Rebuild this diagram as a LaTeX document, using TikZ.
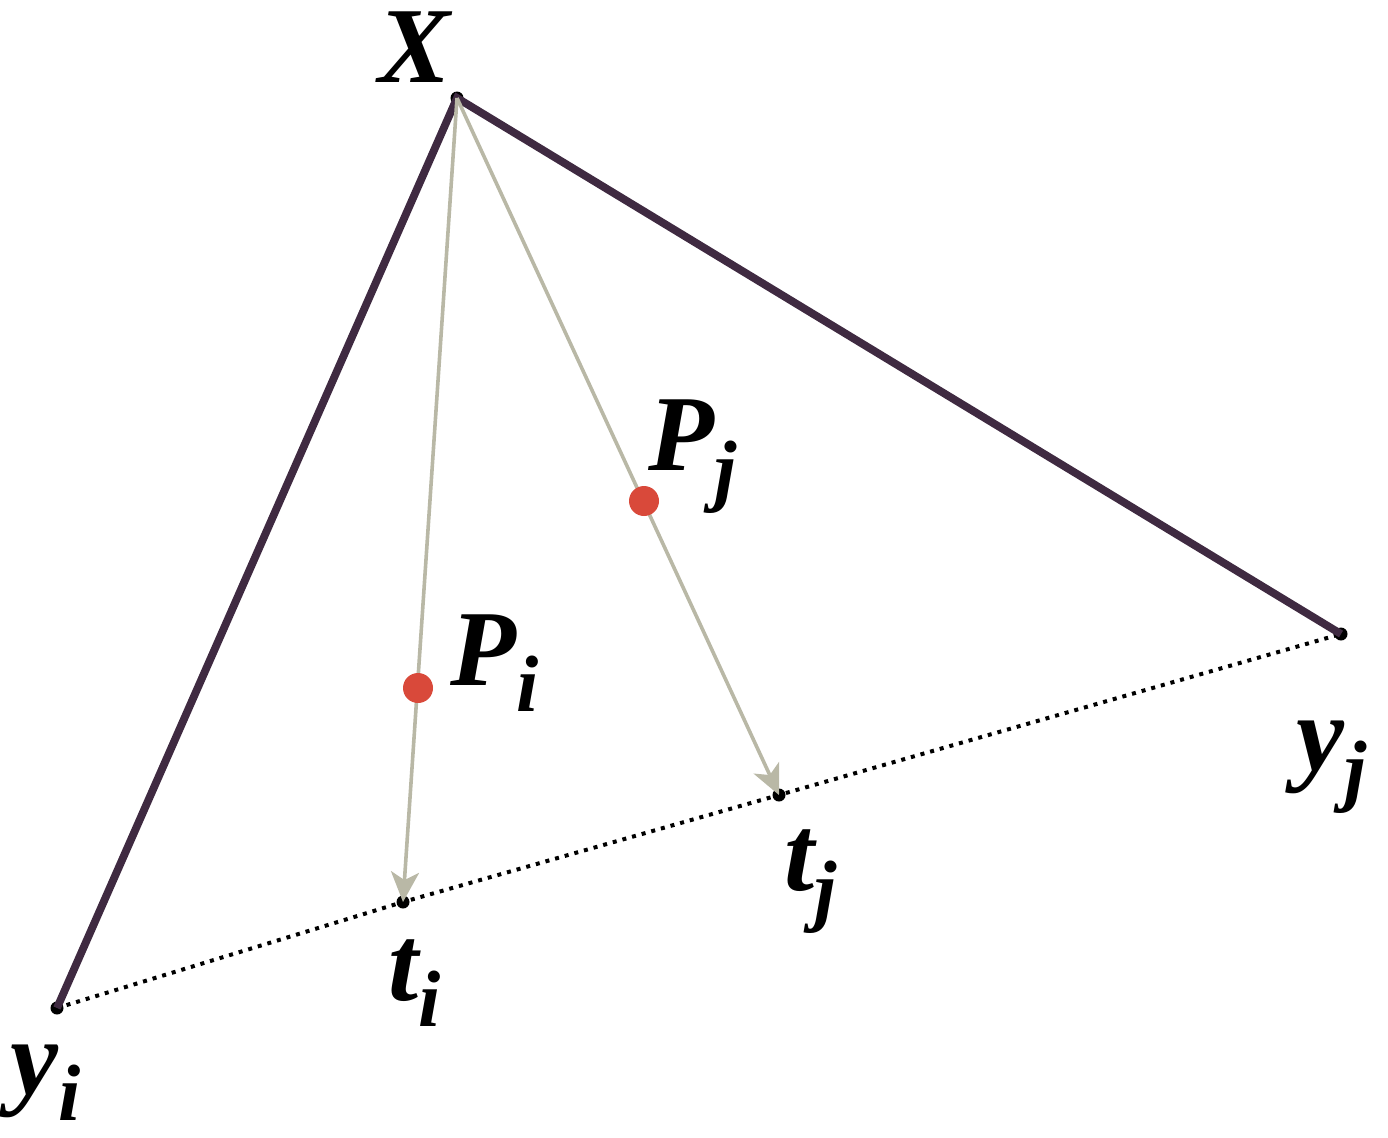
\documentclass[tikz,border=0pt]{standalone}
\usepackage{fontspec}
\setmainfont{Liberation Serif}
\usetikzlibrary{arrows.meta}
\definecolor{edgepurple}{HTML}{3F2A41}
\definecolor{raygray}{HTML}{B9B8A6}
\definecolor{dotred}{HTML}{D9493A}
\newcommand{\lab}[2]{{\fontsize{54}{60}\selectfont\bfseries\itshape #1}\raisebox{-13pt}{\fontsize{40}{44}\selectfont\bfseries\itshape #2}}
\begin{document}
\begin{tikzpicture}[x=0.5pt,y=-0.5pt,
  edge/.style={line width=3.9pt,edgepurple},
  ray/.style={line width=1.8pt,raygray,-{Stealth[length=15pt,width=14pt,inset=4pt]}},
  vtx/.style={circle,fill=black,inner sep=0pt,minimum size=6.5pt},
  pdot/.style={circle,fill=dotred,inner sep=0pt,minimum size=15pt},
  lbl/.style={inner sep=0pt,anchor=base west}]
\useasboundingbox (0,0) rectangle (1388,1137);
\node[vtx] (X) at (457,98) {};
\node[vtx] (yi) at (57,1008) {};
\node[vtx] (yj) at (1341,634) {};
\node[vtx] (ti) at (403,902) {};
\node[vtx] (tj) at (779,795) {};
\draw[line width=2pt,dash pattern=on 2pt off 3pt] (yi.center) -- (ti.center) -- (tj.center) -- (yj.center);
\draw[edge] (yi.center) -- (X.center) -- (yj.center);
\draw[ray] (X.center) -- (ti.center);
\draw[ray] (X.center) -- (tj.center);
\node[pdot] (Pi) at (418,688) {};
\node[pdot] (Pj) at (644,501) {};
\node[lbl] (lX) at (378,82) {\lab{X}{}};
\node[lbl] (lPi) at (450,685) {\lab{P}{i}};
\node[lbl] (lPj) at (648,470) {\lab{P}{j}};
\node[lbl] (lyi) at (10,1094) {\lab{y}{i}};
\node[lbl] (lyj) at (1296,770) {\lab{y}{j}};
\node[lbl] (lti) at (388,1000) {\lab{t}{i}};
\node[lbl] (ltj) at (784,890) {\lab{t}{j}};
\end{tikzpicture}
\end{document}
